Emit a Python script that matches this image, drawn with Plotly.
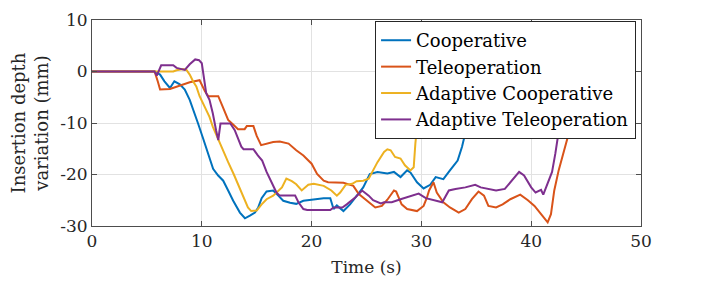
import plotly.graph_objects as go

# ---------------- data ----------------
coop_t = [0, 5.7, 6.2, 6.6, 7.1, 7.5, 8.0, 8.45, 8.9, 9.2, 9.66, 10.12, 10.58, 11.03, 11.49, 11.95,
          12.4, 12.86, 13.47, 13.93, 14.38, 14.84, 15.14, 15.45, 15.9, 16.5, 16.97, 17.42, 18.04,
          18.6, 19.25, 20.2, 21.1, 21.7, 22.0, 22.3, 22.9, 23.5, 24.1, 24.7, 25.3, 26.0, 26.9,
          27.5, 28.1, 28.7, 29.0, 29.6, 30.2, 30.8, 31.3, 32.0, 32.6, 33.3, 33.7, 34.0, 34.5,
          35.0, 35.5]
coop_y = [0, 0, -0.6, -1.9, -3.2, -1.9, -2.5, -3.5, -5.5, -7.5, -10.1, -13.0, -15.9, -18.9, -20.2,
          -21.2, -23.1, -25.1, -27.4, -28.5, -28.0, -27.4, -26.4, -24.6, -23.3, -23.1, -24.1,
          -25.1, -25.5, -25.7, -25.1, -24.8, -24.6, -24.6, -26.7, -26.0, -27.1, -25.8, -24.1,
          -22.5, -19.9, -19.5, -19.8, -19.5, -20.5, -19.2, -19.6, -21.5, -22.7, -22.0, -20.5,
          -20.9, -19.2, -17.3, -14.6, -11.7, -7.5, -3.5, 0]

tele_t = [0, 5.7, 6.0, 6.2, 7.1, 8.0, 8.9, 9.8, 10.3, 10.6, 11.5, 11.9, 12.4, 12.9, 13.3, 13.9,
          14.1, 14.7, 15.0, 15.4, 15.9, 16.5, 17.1, 17.9, 18.6, 19.25, 20.0, 20.5, 21.1, 21.5,
          22.9, 23.8, 24.3, 24.9, 25.4, 25.8, 26.4, 26.9, 27.5, 27.7, 28.2, 28.7, 29.6, 30.2,
          30.5, 30.7, 31.1, 31.4, 32.0, 32.6, 33.4, 34.0, 34.6, 35.2, 35.7, 36.1, 36.8, 37.4,
          38.1, 39.0, 39.7, 40.3, 40.9, 41.5, 41.8, 42.1, 42.5, 43.0, 43.5, 44.0, 44.5]
tele_y = [0, 0, -2.0, -3.5, -3.4, -2.7, -2.1, -1.7, -3.9, -4.8, -4.8, -6.8, -9.4, -10.4, -11.2,
          -11.2, -10.6, -10.6, -12.5, -14.3, -14.0, -13.7, -13.6, -14.0, -15.3, -16.3, -17.9,
          -19.9, -21.2, -21.5, -21.6, -22.2, -23.8, -24.8, -25.8, -26.4, -26.1, -24.9, -23.1,
          -23.3, -25.8, -26.7, -27.1, -26.1, -24.5, -23.1, -21.5, -23.5, -25.4, -26.4, -27.4,
          -26.7, -24.8, -23.3, -24.1, -26.1, -26.4, -25.8, -24.8, -23.9, -25.0, -26.1, -27.7,
          -29.3, -27.7, -23.1, -19.2, -15.3, -11.4, -6.0, -1.0]

acoop_t = [0, 5.7, 7.4, 7.7, 8.3, 8.6, 8.9, 9.2, 9.5, 9.8, 10.3, 10.7, 11.0, 11.5, 11.9, 12.4,
           12.9, 13.3, 13.8, 14.2, 14.5, 15.0, 15.45, 15.9, 16.5, 17.3, 17.7, 18.2, 18.6, 19.1,
           19.7, 20.2, 21.1, 21.8, 22.3, 22.6, 23.1, 23.7, 24.1, 24.7, 25.2, 25.5, 26.0, 26.6,
           26.9, 27.2, 27.6, 28.1, 28.5, 29.0, 29.3, 29.45, 29.6, 30.0, 30.4]
acoop_y = [0, 0, 0, 0.25, 0.5, 0.3, -0.6, -1.9, -2.9, -4.8, -7.2, -8.8, -10.7, -13.3, -15.3,
           -17.6, -19.9, -21.8, -24.4, -26.4, -27.1, -27.0, -25.8, -24.8, -24.1, -22.5, -20.8,
           -21.3, -21.9, -23.1, -22.0, -21.8, -22.2, -23.1, -24.1, -23.5, -22.0, -21.8, -21.3,
           -21.2, -20.8, -19.5, -17.6, -15.6, -15.1, -15.3, -16.6, -16.9, -18.2, -19.2, -18.6,
           -14.0, -10.7, -5.0, 0]

atele_t = [0, 5.7, 5.9, 6.3, 7.4, 7.7, 8.45, 8.9, 9.4, 9.75, 10.0, 10.2, 10.4, 10.7, 11.0, 11.3,
           11.5, 11.7, 12.6, 13.0, 13.3, 13.6, 13.8, 14.7, 15.1, 15.5, 15.9, 16.4, 16.8, 17.1,
           18.5, 18.8, 19.25, 19.6, 21.7, 22.0, 22.8, 23.2, 24.0, 24.6, 25.2, 25.6, 26.3, 26.6,
           27.3, 28.1, 29.0, 29.75, 30.4, 31.1, 31.9, 32.5, 33.1, 34.0, 34.9, 35.4, 36.0, 36.8,
           37.6, 38.1, 38.9, 39.35, 40.0, 40.4, 40.9, 41.1, 41.5, 41.9, 42.2, 42.5, 43.0, 43.5]
atele_y = [0, 0, -0.8, 1.2, 1.2, 0.7, 0.3, 1.4, 2.35, 2.2, 1.6, -0.9, -4.2, -5.5, -8.1, -11.4,
           -13.3, -10.1, -10.1, -11.4, -13.0, -14.6, -15.1, -15.1, -16.3, -17.3, -19.5, -21.8,
           -23.5, -24.1, -24.1, -25.4, -26.7, -26.9, -26.9, -26.4, -26.4, -25.8, -24.4, -23.1,
           -24.1, -25.0, -25.6, -25.4, -25.4, -24.8, -24.2, -23.7, -24.6, -25.0, -25.4, -23.1,
           -22.8, -22.5, -22.0, -22.5, -22.8, -23.1, -22.8, -21.5, -19.5, -20.2, -22.5, -23.5,
           -23.0, -23.9, -21.5, -19.5, -15.9, -11.7, -6.0, 0]

series_names = ["Cooperative", "Teleoperation", "Adaptive Cooperative", "Adaptive Teleoperation"]
series_colors = ["#0072BD", "#D95319", "#EDB120", "#7E2F8E"]

x_ticks = [0, 10, 20, 30, 40, 50]
x_tick_labels = ["0", "10", "20", "30", "40", "50"]
y_ticks = [-30, -20, -10, 0, 10]
y_tick_labels = ["-30", "-20", "-10", "0", "10"]

# ---------------- figure ----------------
FONT = "DejaVu Serif"
fig = go.Figure()
for (t, y), name, col in zip([(coop_t, coop_y), (tele_t, tele_y), (acoop_t, acoop_y), (atele_t, atele_y)],
                             series_names, series_colors):
    fig.add_trace(go.Scatter(x=t, y=y, mode="lines", name=name,
                             line=dict(color=col, width=2)))

axis_common = dict(showline=True, linecolor="#4d4d4d", linewidth=1, mirror="ticks",
                   ticks="inside", ticklen=5, tickcolor="#4d4d4d",
                   showgrid=True, gridcolor="#e2e2e2", gridwidth=1, zeroline=False,
                   tickfont=dict(family=FONT, size=17, color="#262626"))

fig.update_xaxes(range=[0, 50], tickvals=x_ticks, ticktext=x_tick_labels,
                 title=dict(text="Time (s)", font=dict(family=FONT, size=17, color="#262626"), standoff=10),
                 **axis_common)
fig.update_yaxes(range=[-30, 10], tickvals=y_ticks, ticktext=y_tick_labels,
                 title=dict(text="Insertion depth<br>variation (mm)", font=dict(family=FONT, size=18, color="#262626"),
                            standoff=6),
                 **axis_common)

# the page body adds an 8 px offset; margins are compensated for it
fig.update_layout(
    width=709, height=284,
    margin=dict(l=84, r=76, t=12, b=66, autoexpand=False),
    plot_bgcolor="white", paper_bgcolor="white",
    font=dict(family=FONT, size=17, color="#262626"),
    legend=dict(x=0.991, y=0.995, xanchor="right", yanchor="top",
                bgcolor="white", bordercolor="#262626", borderwidth=1,
                font=dict(family=FONT, size=18, color="#000000"),
                tracegroupgap=0),
    showlegend=True,
)

fig.write_html("out.html")
